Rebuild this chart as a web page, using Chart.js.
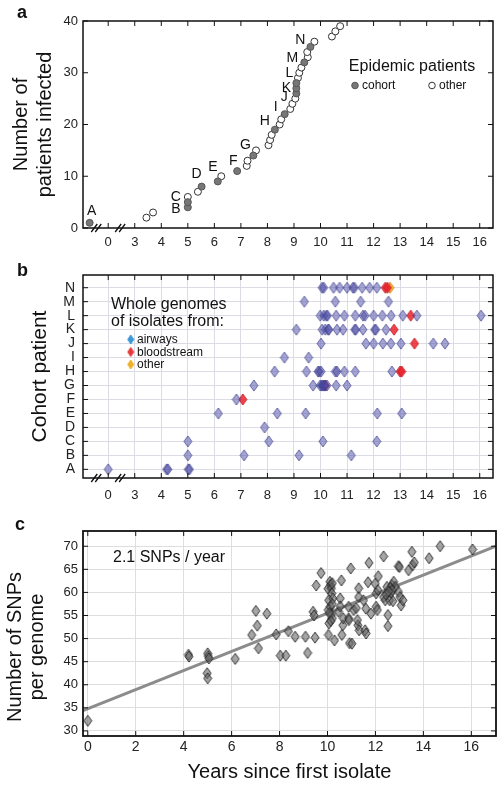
<!DOCTYPE html>
<html>
<head>
<meta charset="utf-8">
<script src="https://cdn.jsdelivr.net/npm/chart.js@4.4.1/dist/chart.umd.min.js"></script>
<style>
  body { margin: 0; background: #fff; width: 503px; height: 788px; position: relative; overflow: hidden; font-family: "Liberation Sans", Arial, sans-serif; }
  canvas { position: absolute; left: 0; }
  .tag { position: absolute; font-weight: bold; font-size: 18px; line-height: 18px; color: #111; }
</style>
</head>
<body>
<canvas id="chartA" width="503" height="250" style="top:0"></canvas>
<canvas id="chartB" width="503" height="260" style="top:250px"></canvas>
<canvas id="chartC" width="503" height="278" style="top:510px"></canvas>
<div class="tag" style="left:17px;top:3px">a</div>
<div class="tag" style="left:17px;top:261px">b</div>
<div class="tag" style="left:15px;top:515px">c</div>
<script>
// --- panel a: cumulative epidemic patients
const onsetYears = [-0.7, 3.44, 3.69, 5.0, 5.0, 5.0, 5.38, 5.52, 6.13, 6.26,
  6.86, 7.22, 7.25, 7.47, 7.57, 8.04, 8.1, 8.16, 8.28, 8.46,
  8.52, 8.65, 8.86, 8.94, 9.05, 9.09, 9.09, 9.09, 9.15, 9.2,
  9.28, 9.39, 9.52, 9.5, 9.62, 9.77, 10.43, 10.56, 10.74];
const patientsInfected = [1, 2, 3, 4, 5, 6, 7, 8, 9, 10, 11, 12, 13, 14, 15, 16, 17, 18, 19, 20,
  21, 22, 23, 24, 25, 26, 27, 28, 29, 30, 31, 32, 33, 34, 35, 36, 37, 38, 39];
const cohortTag = ['A', '', '', 'B', 'C', '', '', 'D', 'E', '', 'F', '', '', 'G', '', '', '', '', 'H', '',
  '', 'I', '', '', '', 'J', 'K', 'L', '', '', '', 'M', '', '', 'N', '', '', '', ''];

// x axis ticks (axis is broken between 0 and 3)
const yearTicks = [0, 3, 4, 5, 6, 7, 8, 9, 10, 11, 12, 13, 14, 15, 16];

// --- panel b: isolates per cohort patient [patient, year]
const cohortPatients = ['A', 'B', 'C', 'D', 'E', 'F', 'G', 'H', 'I', 'J', 'K', 'L', 'M', 'N'];
const airwaysIsolates = [
  ['N', 10.06], ['N', 10.12], ['N', 10.49], ['N', 10.72], ['N', 11.0], ['N', 11.22], ['N', 11.28], ['N', 11.57], ['N', 11.85], ['N', 12.12],
  ['M', 9.39], ['M', 10.56], ['M', 11.51], ['M', 12.56],
  ['L', 9.99], ['L', 10.12], ['L', 10.22], ['L', 10.26], ['L', 10.59], ['L', 10.9], ['L', 11.31], ['L', 11.6], ['L', 11.68],
  ['L', 12.0], ['L', 12.33], ['L', 12.66], ['L', 13.1], ['L', 13.63], ['L', 16.05],
  ['K', 9.09], ['K', 10.06], ['K', 10.18], ['K', 10.28], ['K', 10.32], ['K', 10.62], ['K', 10.85], ['K', 11.29], ['K', 11.33],
  ['K', 11.6], ['K', 12.04], ['K', 12.08], ['K', 12.47],
  ['J', 10.02], ['J', 11.71], ['J', 12.0], ['J', 12.35], ['J', 12.65], ['J', 13.03], ['J', 14.25], ['J', 14.69],
  ['I', 8.64], ['I', 9.55],
  ['H', 8.27], ['H', 9.47], ['H', 9.91], ['H', 9.95], ['H', 10.02], ['H', 10.56], ['H', 10.62], ['H', 10.9], ['H', 11.31], ['H', 12.69],
  ['G', 7.49], ['G', 9.72], ['G', 9.99], ['G', 10.04], ['G', 10.08], ['G', 10.12], ['G', 10.16], ['G', 10.24], ['G', 10.59], ['G', 11.0],
  ['F', 6.83],
  ['E', 6.15], ['E', 8.37], ['E', 9.44], ['E', 12.14], ['E', 13.06],
  ['D', 7.89],
  ['C', 5.0], ['C', 8.05], ['C', 10.09], ['C', 12.12],
  ['B', 5.0], ['B', 7.12], ['B', 9.19], ['B', 11.16],
  ['A', 0], ['A', 4.2], ['A', 4.25], ['A', 5.02], ['A', 5.06]
];
const bloodIsolates = [['N', 12.44], ['N', 12.52], ['L', 13.4], ['K', 12.77], ['J', 13.54], ['H', 13.0], ['H', 13.06], ['G', 10.18], ['F', 7.07]];
const otherIsolates = [['N', 12.62]];

// --- panel c: SNPs per genome vs years
const snpYears = [0.0, 4.2, 4.22, 5.0, 5.03, 5.05, 4.98, 5.0, 6.15, 6.84,
  7.01, 7.07, 7.12, 7.47, 7.86, 8.03, 8.26, 8.37, 8.65, 9.08,
  9.17, 9.4, 9.44, 9.48, 9.53, 9.73, 10.02, 10.05, 10.03, 10.06,
  10.04, 10.1, 10.13, 10.16, 10.18, 10.12, 10.16, 10.2, 10.22, 10.2,
  10.08, 10.14, 10.2, 10.29, 10.46, 10.53, 10.53, 10.58, 10.6, 10.64,
  10.66, 10.88, 10.88, 10.92, 11.02, 10.97, 11.09, 11.2, 11.3, 11.3,
  11.27, 11.32, 11.5, 11.57, 11.61, 11.6, 11.69, 11.73, 11.81, 11.99,
  12.03, 12.03, 12.12, 12.08, 12.1, 12.34, 12.34, 12.41, 12.48, 12.52,
  12.52, 12.59, 12.65, 12.69, 12.76, 12.73, 12.83, 12.96, 13.0, 12.96,
  13.03, 13.07, 13.15, 13.38, 13.52, 13.55, 13.62, 14.24, 14.7, 16.05,
  12.62, 12.7, 12.45, 12.55, 11.25, 10.89];
const snpCounts = [32.2, 46.5, 46.1, 46.8, 46.2, 45.7, 42.5, 41.4, 45.6, 50.8,
  56.0, 52.8, 47.9, 55.4, 50.9, 46.3, 46.3, 51.6, 50.4, 50.4,
  46.9, 55.8, 55.0, 50.2, 61.5, 64.2, 60.8, 58.3, 56.2, 53.3,
  50.8, 62.3, 61.6, 60.9, 59.8, 56.9, 55.3, 54.4, 58.7, 62.0,
  55.5, 53.8, 57.5, 49.6, 55.8, 58.7, 57.0, 62.6, 50.8, 52.9,
  54.4, 54.4, 56.9, 49.0, 48.9, 65.2, 56.2, 56.6, 60.9, 59.0,
  52.9, 51.8, 58.3, 51.8, 51.1, 56.5, 62.2, 66.4, 55.4, 61.9,
  59.8, 56.9, 63.5, 56.2, 60.5, 67.8, 59.0, 58.3, 61.2, 55.1,
  52.7, 58.3, 59.9, 61.6, 62.3, 58.1, 61.2, 65.7, 65.5, 60.1,
  59.0, 57.2, 58.3, 64.8, 68.8, 65.9, 66.5, 67.4, 70.0, 69.3,
  61.0, 60.5, 59.5, 60.2, 54.0, 54.0];
// regression line ends, as drawn
const fitYears = [-0.2, 17.03];
const fitSnps = [34.4, 70.0];

const fam = '"Liberation Sans", Arial, sans-serif';
Chart.defaults.font.family = fam;
Chart.defaults.color = '#222';
Chart.defaults.animation = false;
Chart.defaults.plugins.legend.display = false;
Chart.defaults.plugins.tooltip.enabled = false;

const axisPos = yr => yr < 2 ? yr + 2 : yr;   // squeeze the 0..3 gap
const tickText = v => v < 2.5 ? String(v - 2) : String(v);

function diamond(w, h, fill, stroke) {
  const c = document.createElement('canvas');
  c.width = w + 2; c.height = h + 2;
  const g = c.getContext('2d');
  g.beginPath();
  g.moveTo(c.width / 2, 1);
  g.lineTo(c.width - 1, c.height / 2);
  g.lineTo(c.width / 2, c.height - 1);
  g.lineTo(1, c.height / 2);
  g.closePath();
  g.fillStyle = fill; g.fill();
  g.strokeStyle = stroke; g.lineWidth = 1; g.stroke();
  return c;
}

// box around plot with inward ticks, optional axis break marks
const frameTicks = {
  id: 'frameTicks',
  afterDraw(chart, args, o) {
    const { ctx, chartArea: a, scales: { x, y } } = chart;
    ctx.save();
    ctx.strokeStyle = '#111';
    ctx.lineWidth = o.width || 1.5;
    ctx.strokeRect(a.left, a.top, a.right - a.left, a.bottom - a.top);
    ctx.lineWidth = 1;
    ctx.beginPath();
    const len = 5;
    x.ticks.forEach(t => {
      const px = x.getPixelForValue(t.value);
      ctx.moveTo(px, a.bottom); ctx.lineTo(px, a.bottom - len);
      ctx.moveTo(px, a.top); ctx.lineTo(px, a.top + len);
    });
    y.ticks.forEach(t => {
      const py = y.getPixelForValue(t.value);
      ctx.moveTo(a.left, py); ctx.lineTo(a.left + len, py);
      ctx.moveTo(a.right, py); ctx.lineTo(a.right - len, py);
    });
    ctx.stroke();
    (o.breaks || []).forEach(v => {
      const px = x.getPixelForValue(v);
      ctx.beginPath();
      for (const dx of [-2, 2]) {
        ctx.moveTo(px + dx - 3, a.bottom + 4);
        ctx.lineTo(px + dx + 3, a.bottom - 4);
      }
      ctx.lineWidth = 1.3;
      ctx.stroke();
    });
    ctx.restore();
  }
};

function yearAxis(bottomH, pad) {
  return {
    type: 'linear', min: 1.05, max: 16.5,
    afterBuildTicks: s => { s.ticks = yearTicks.map(v => ({ value: axisPos(v) })); },
    afterFit: s => { s.height = bottomH; },
    ticks: { callback: tickText, font: { size: 13 }, padding: pad, maxRotation: 0, autoSkip: false },
    border: { display: false }
  };
}

// ---------- panel a
const labelNudge = {
  A: [2, -12], B: [-12, 2], C: [-12, -5], D: [-5, -12], E: [-5, -14], F: [-4, -10], G: [-8, -10],
  H: [-10, -9], I: [-9, -7], J: [-12, 4], K: [-10, 0], L: [-7, -10], M: [-12, -4], N: [-10, -7]
};
const cohortPts = [], otherPts = [], cohortIds = [];
onsetYears.forEach((yr, i) => {
  const p = { x: axisPos(yr), y: patientsInfected[i] };
  if (cohortTag[i]) { cohortPts.push(p); cohortIds.push(cohortTag[i]); } else otherPts.push(p);
});

const letterTags = {
  id: 'letterTags',
  afterDatasetsDraw(chart) {
    const { ctx } = chart;
    const meta = chart.getDatasetMeta(0);
    ctx.save();
    ctx.fillStyle = '#111';
    ctx.font = '14px ' + fam;
    ctx.textAlign = 'center';
    ctx.textBaseline = 'middle';
    meta.data.forEach((pt, i) => {
      const id = cohortIds[i];
      const [dx, dy] = labelNudge[id];
      ctx.fillText(id, pt.x + dx, pt.y + dy);
    });
    ctx.restore();
  }
};

const epidemicKey = {
  id: 'epidemicKey',
  afterDraw(chart) {
    const { ctx } = chart;
    ctx.save();
    ctx.fillStyle = '#111';
    ctx.textBaseline = 'middle';
    ctx.font = '16px ' + fam;
    ctx.textAlign = 'center';
    ctx.fillText('Epidemic patients', 412, 67);
    ctx.font = '12px ' + fam;
    ctx.textAlign = 'left';
    ctx.fillText('cohort', 362, 86);
    ctx.fillText('other', 439, 86);
    ctx.lineWidth = 1;
    ctx.beginPath(); ctx.arc(355, 85.5, 3.3, 0, Math.PI * 2);
    ctx.fillStyle = '#777'; ctx.fill(); ctx.strokeStyle = '#555'; ctx.stroke();
    ctx.beginPath(); ctx.arc(432, 85.5, 3.3, 0, Math.PI * 2);
    ctx.fillStyle = '#fff'; ctx.fill(); ctx.strokeStyle = '#333'; ctx.stroke();
    ctx.restore();
  }
};

new Chart(document.getElementById('chartA'), {
  type: 'scatter',
  data: {
    datasets: [
      { data: cohortPts, pointRadius: 3.5, backgroundColor: '#777', borderColor: '#555', borderWidth: 1 },
      { data: otherPts, pointRadius: 3.5, backgroundColor: '#fff', borderColor: '#333', borderWidth: 1 }
    ]
  },
  options: {
    responsive: false,
    layout: { padding: { top: 21, right: 10, left: 0, bottom: 0 } },
    scales: {
      x: Object.assign(yearAxis(22, 7), { grid: { display: false, drawTicks: false } }),
      y: {
        min: 0, max: 40,
        ticks: { stepSize: 10, font: { size: 13 }, padding: 5 },
        grid: { display: false, drawTicks: false },
        border: { display: false },
        afterFit: s => { s.width = 83; },
        title: { display: true, text: ['Number of', 'patients infected'], font: { size: 20, lineHeight: 1.2 }, color: '#111', padding: { top: 9, bottom: 0 } }
      }
    },
    plugins: { frameTicks: { breaks: [1.55, 2.45] } }
  },
  plugins: [frameTicks, letterTags, epidemicKey]
});

// ---------- panel b
const rowPts = list => list.map(([p, yr]) => ({ x: axisPos(yr), y: cohortPatients.indexOf(p) }));

const isolateKey = {
  id: 'isolateKey',
  afterDraw(chart) {
    const { ctx } = chart;
    ctx.save();
    ctx.fillStyle = '#111';
    ctx.textBaseline = 'middle';
    ctx.textAlign = 'left';
    ctx.font = '16px ' + fam;
    ctx.fillText('Whole genomes', 111, 55);
    ctx.fillText('of isolates from:', 111, 72);
    ctx.font = '12px ' + fam;
    const keys = [['airways', '#3b97d6'], ['bloodstream', '#e53a3a'], ['other', '#eeb22a']];
    keys.forEach(([name, col], i) => {
      const yy = 89.5 + i * 12.5;
      ctx.drawImage(diamond(6, 9, col, col), 130.7 - 4, yy - 5.5);
      ctx.fillStyle = '#111';
      ctx.fillText(name, 137, yy + 0.5);
    });
    ctx.restore();
  }
};

new Chart(document.getElementById('chartB'), {
  type: 'scatter',
  data: {
    datasets: [
      { data: rowPts(airwaysIsolates), pointStyle: diamond(8, 11, 'rgba(75,75,168,0.5)', 'rgba(60,60,140,0.7)') },
      { data: rowPts(bloodIsolates), pointStyle: diamond(8, 11, 'rgba(235,35,45,0.85)', 'rgba(200,30,40,0.9)') },
      { data: rowPts(otherIsolates), pointStyle: diamond(8, 11, 'rgba(245,170,35,0.85)', 'rgba(210,140,30,0.9)') }
    ]
  },
  options: {
    responsive: false,
    layout: { padding: { top: 25, right: 10, left: 0, bottom: 0 } },
    scales: {
      x: Object.assign(yearAxis(32, 10), { grid: { color: '#dcdce4', lineWidth: 1, drawTicks: false } }),
      y: {
        min: -0.62, max: 13.91,
        afterBuildTicks: s => { s.ticks = cohortPatients.map((_, i) => ({ value: i })); },
        ticks: { callback: v => cohortPatients[v], font: { size: 14 }, padding: 8, autoSkip: false },
        grid: { color: '#dcdce4', lineWidth: 1, drawTicks: false },
        border: { display: false },
        afterFit: s => { s.width = 83; },
        title: { display: true, text: 'Cohort patient', font: { size: 21, lineHeight: 1.2 }, color: '#111', padding: { top: 28, bottom: 0 } }
      }
    },
    plugins: { frameTicks: { breaks: [1.55, 2.45] } }
  },
  plugins: [frameTicks, isolateKey]
});

// ---------- panel c
const snpPts = snpYears.map((yr, i) => ({ x: yr, y: snpCounts[i] }));
const fitPts = fitYears.map((yr, i) => ({ x: yr, y: fitSnps[i] }));
const snpTicksX = [0, 2, 4, 6, 8, 10, 12, 14, 16];
const snpTicksY = [30, 35, 40, 45, 50, 55, 60, 65, 70];

const sideNotes = {
  id: 'sideNotes',
  afterDraw(chart) {
    const { ctx } = chart;
    ctx.save();
    ctx.fillStyle = '#111';
    ctx.textBaseline = 'middle';
    ctx.font = '16px ' + fam;
    ctx.textAlign = 'left';
    ctx.fillText('2.1 SNPs / year', 113, 48);
    // y axis title, two rotated lines
    ctx.font = '20px ' + fam;
    ctx.textAlign = 'center';
    ctx.translate(0, 137);
    ctx.rotate(-Math.PI / 2);
    ctx.fillText('Number of SNPs', 0, 15);
    ctx.fillText('per genome', 0, 37);
    ctx.restore();
  }
};

new Chart(document.getElementById('chartC'), {
  type: 'scatter',
  data: {
    datasets: [
      { data: snpPts, order: 0, pointStyle: diamond(8, 11, 'rgba(100,100,100,0.58)', 'rgba(30,30,30,0.85)') },
      { data: fitPts, order: 1, showLine: true, pointRadius: 0, borderColor: '#8c8c8c', borderWidth: 3 }
    ]
  },
  options: {
    responsive: false,
    layout: { padding: { top: 21, right: 7, left: 0, bottom: 0 } },
    scales: {
      x: {
        min: -0.2, max: 17.03,
        afterBuildTicks: s => { s.ticks = snpTicksX.map(v => ({ value: v })); },
        afterFit: s => { s.height = 52; },
        ticks: { font: { size: 14 }, padding: 3, maxRotation: 0 },
        grid: { color: '#dedede', drawTicks: false },
        border: { display: false },
        title: { display: true, text: 'Years since first isolate', font: { size: 20, lineHeight: 1.2 }, color: '#111', padding: { top: 0, bottom: 4 } }
      },
      y: {
        min: 28.9, max: 73.3,
        afterBuildTicks: s => { s.ticks = snpTicksY.map(v => ({ value: v })); },
        afterFit: s => { s.width = 83; },
        ticks: { font: { size: 13 }, padding: 5 },
        grid: { color: '#dedede', drawTicks: false },
        border: { display: false }
      }
    },
    plugins: { frameTicks: { width: 1.8 } }
  },
  plugins: [frameTicks, sideNotes]
});
</script>
</body>
</html>
